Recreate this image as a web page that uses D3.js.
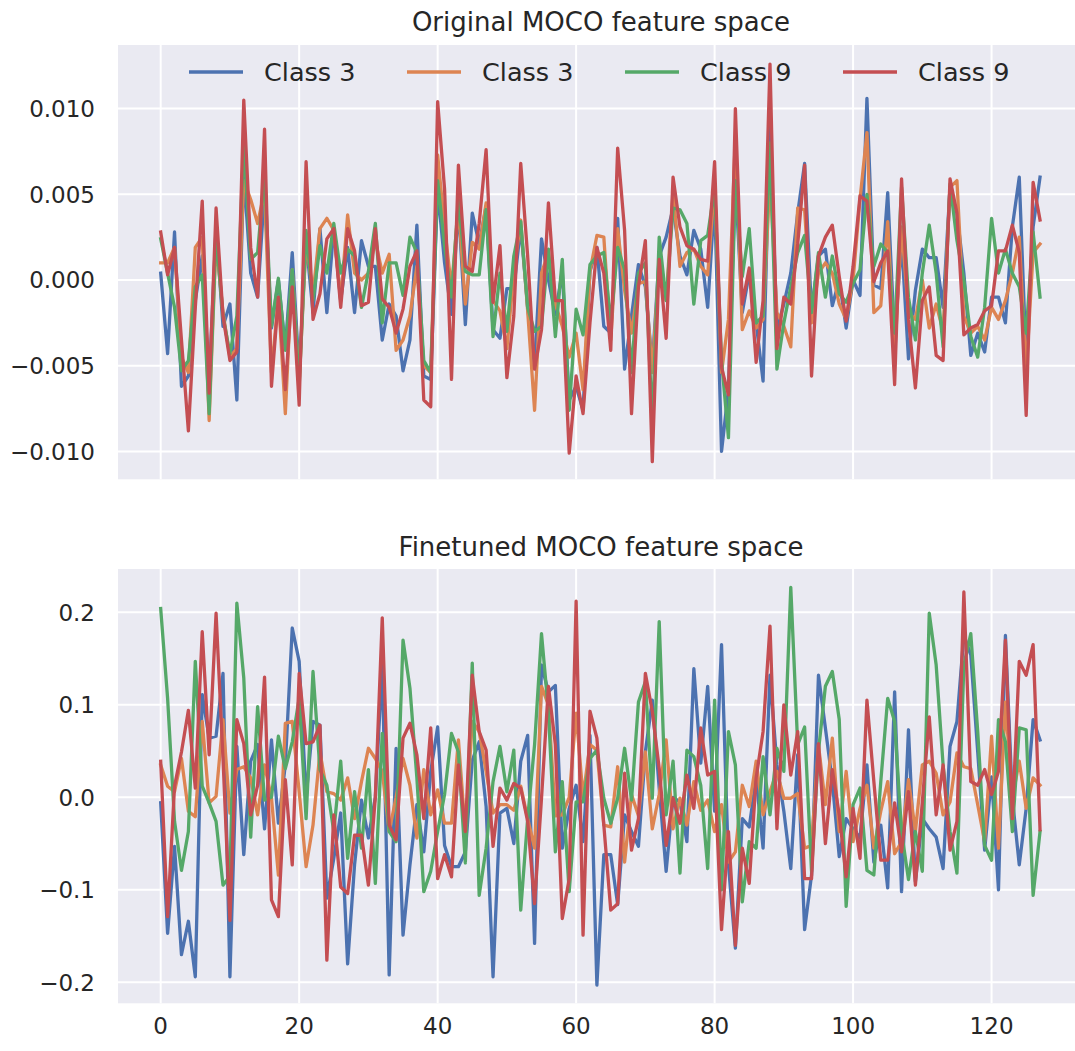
<!DOCTYPE html>
<html>
<head>
<meta charset="utf-8">
<script src="https://cdn.jsdelivr.net/npm/d3@7"></script>
<style>
  html, body { margin: 0; padding: 0; background: #ffffff; }
  svg { display: block; font-family: "DejaVu Sans", sans-serif; }
</style>
</head>
<body>
<svg id="chart" width="1075" height="1051"></svg>
<script>
// ---------- data ----------
const seriesLabels = ["Class 3", "Class 3", "Class 9", "Class 9"];
const seriesColors = ["#4C72B0", "#DD8452", "#55A868", "#C44E52"];
const titles = ["Original MOCO feature space", "Finetuned MOCO feature space"];
const xTicks = [0, 20, 40, 60, 80, 100, 120];
const topYTicks = [-0.010, -0.005, 0.000, 0.005, 0.010];
const bottomYTicks = [-0.2, -0.1, 0.0, 0.1, 0.2];

const topBlue = [0.0004,-0.0043,0.0028,-0.0062,-0.0056,-0.0012,0.0014,-0.0060,0.0031,-0.0027,
-0.0014,-0.0070,0.0062,0.0004,-0.0010,0.0052,-0.0028,0.0000,-0.0040,0.0016,
-0.0054,0.0023,-0.0019,0.0030,-0.0019,0.0030,-0.0012,0.0019,-0.0019,0.0023,
0.0008,0.0008,-0.0035,-0.0014,-0.0021,-0.0053,-0.0035,0.0032,-0.0056,-0.0058,
0.0053,0.0010,-0.0020,0.0043,-0.0026,0.0039,0.0021,0.0043,-0.0029,-0.0034,
-0.0005,-0.0005,0.0031,-0.0016,-0.0050,0.0024,0.0000,-0.0020,0.0005,-0.0070,
-0.0062,-0.0076,0.0005,0.0019,-0.0027,-0.0031,0.0036,-0.0052,-0.0021,0.0009,
-0.0004,-0.0050,0.0014,0.0025,0.0042,0.0014,0.0003,0.0029,0.0018,-0.0016,
0.0047,-0.0100,-0.0064,0.0058,-0.0019,0.0004,-0.0025,-0.0059,0.0090,-0.0029,
-0.0014,0.0004,0.0039,0.0068,-0.0019,0.0014,0.0018,-0.0015,0.0000,-0.0028,
0.0000,-0.0009,0.0106,-0.0003,-0.0005,0.0051,-0.0035,0.0023,-0.0046,-0.0006,
0.0018,0.0013,0.0013,-0.0016,0.0054,0.0039,0.0004,-0.0044,-0.0031,-0.0042,
-0.0010,-0.0010,-0.0025,0.0031,0.0060,-0.0047,0.0031,0.0060];

const topOrange = [0.0010,0.0010,0.0019,-0.0045,-0.0054,0.0019,0.0025,-0.0082,0.0023,-0.0019,
-0.0045,-0.0040,0.0058,0.0047,0.0033,0.0052,-0.0054,-0.0010,-0.0078,0.0006,
-0.0060,0.0023,-0.0008,0.0030,0.0036,0.0029,-0.0012,0.0038,0.0004,0.0000,
0.0004,0.0023,0.0004,0.0015,-0.0041,-0.0035,-0.0021,0.0008,-0.0050,-0.0054,
0.0073,0.0031,-0.0005,0.0043,-0.0014,0.0022,0.0018,0.0045,-0.0012,-0.0018,
-0.0040,0.0004,0.0035,-0.0018,-0.0076,0.0004,0.0016,-0.0014,-0.0027,-0.0045,
-0.0031,-0.0064,0.0005,0.0026,0.0025,-0.0035,0.0030,-0.0006,-0.0031,-0.0002,
-0.0001,-0.0054,0.0012,-0.0012,0.0051,0.0008,0.0016,0.0018,0.0008,0.0003,
0.0056,-0.0054,-0.0023,0.0084,-0.0029,-0.0018,-0.0028,-0.0023,0.0060,-0.0019,
-0.0027,-0.0039,0.0042,0.0041,-0.0025,0.0004,0.0010,0.0004,-0.0014,-0.0023,
0.0000,0.0047,0.0086,-0.0019,-0.0015,0.0034,-0.0045,0.0031,-0.0019,-0.0023,
0.0000,-0.0028,-0.0014,-0.0030,0.0054,0.0058,-0.0021,-0.0031,-0.0027,-0.0035,
-0.0016,-0.0023,-0.0012,0.0004,0.0025,-0.0054,0.0016,0.0021];

const topGreen = [0.0024,0.0004,-0.0016,-0.0053,-0.0047,-0.0004,0.0003,-0.0078,0.0027,-0.0021,
-0.0043,-0.0021,0.0080,0.0012,0.0016,0.0062,-0.0027,0.0001,-0.0041,0.0006,
-0.0062,0.0029,-0.0012,0.0020,0.0004,0.0033,0.0004,0.0018,0.0014,-0.0016,
0.0005,0.0033,-0.0025,0.0010,0.0010,-0.0009,0.0025,0.0016,-0.0047,-0.0054,
0.0058,0.0020,-0.0010,0.0047,0.0005,0.0003,0.0003,0.0041,-0.0033,0.0004,
-0.0030,0.0014,0.0034,-0.0016,-0.0030,-0.0027,0.0018,-0.0033,0.0012,-0.0076,
-0.0017,-0.0032,0.0009,0.0014,0.0016,-0.0025,0.0019,0.0006,-0.0054,0.0004,
0.0010,-0.0084,0.0025,-0.0012,0.0042,0.0041,0.0033,-0.0014,0.0023,0.0026,
0.0054,-0.0047,-0.0092,0.0058,0.0002,0.0030,-0.0025,-0.0021,0.0080,-0.0052,
-0.0025,-0.0004,0.0016,0.0026,-0.0019,0.0016,-0.0010,0.0014,-0.0008,-0.0013,
-0.0002,0.0006,0.0050,0.0008,0.0021,0.0016,-0.0031,0.0054,-0.0010,-0.0035,
0.0004,0.0032,0.0004,-0.0039,0.0056,0.0023,0.0000,-0.0033,-0.0045,-0.0016,
0.0036,0.0004,0.0018,0.0004,-0.0004,-0.0031,0.0028,-0.0010];

const topRed = [0.0028,0.0003,0.0019,-0.0035,-0.0088,-0.0016,0.0046,-0.0066,0.0042,-0.0021,
-0.0047,-0.0042,0.0105,0.0019,-0.0010,0.0088,-0.0062,-0.0010,-0.0064,-0.0004,
-0.0073,0.0069,-0.0023,-0.0008,0.0024,0.0030,-0.0016,0.0030,0.0017,-0.0015,
-0.0013,0.0030,-0.0011,-0.0016,-0.0031,-0.0017,0.0008,0.0017,-0.0070,-0.0074,
0.0104,0.0053,-0.0058,0.0067,0.0008,0.0005,0.0033,0.0076,-0.0013,0.0020,
-0.0057,-0.0021,0.0068,0.0014,-0.0052,-0.0029,0.0045,-0.0012,-0.0012,-0.0101,
-0.0056,-0.0078,-0.0025,0.0019,0.0004,-0.0041,0.0077,0.0029,-0.0078,-0.0004,
0.0023,-0.0106,0.0012,-0.0034,0.0060,0.0031,0.0020,0.0018,0.0012,0.0011,
0.0069,-0.0051,-0.0067,0.0100,-0.0014,0.0007,-0.0048,-0.0012,0.0126,-0.0040,
-0.0010,-0.0014,0.0021,0.0067,-0.0056,0.0014,0.0025,0.0032,0.0002,-0.0024,
0.0008,0.0049,0.0046,-0.0001,0.0010,0.0017,-0.0061,0.0059,-0.0023,-0.0063,
-0.0012,-0.0004,-0.0044,-0.0047,0.0059,0.0039,-0.0032,-0.0028,-0.0026,-0.0018,
-0.0015,0.0017,0.0017,0.0032,0.0016,-0.0079,0.0057,0.0035];

const bottomBlue = [-0.006,-0.147,-0.053,-0.170,-0.134,-0.194,0.111,0.064,0.066,0.134,
-0.194,0.055,-0.062,0.039,0.057,-0.034,0.062,-0.028,0.035,0.183,
0.147,0.000,0.082,0.078,-0.109,-0.066,-0.017,-0.180,-0.073,-0.003,
-0.044,0.000,0.143,-0.192,0.053,-0.149,-0.073,-0.008,-0.059,0.028,
0.076,-0.052,-0.075,-0.075,-0.059,0.040,0.060,-0.010,-0.194,-0.017,
-0.012,-0.050,0.039,0.067,-0.158,0.143,0.114,0.121,-0.055,-0.012,
0.013,-0.048,0.067,-0.203,-0.062,-0.062,-0.116,-0.019,-0.037,-0.053,
0.049,0.105,0.010,-0.080,0.000,-0.005,-0.048,0.139,0.037,0.120,
-0.015,0.165,-0.073,-0.163,-0.023,-0.032,0.021,-0.055,0.132,0.035,
-0.015,-0.077,0.046,-0.143,-0.084,0.132,0.075,0.017,-0.064,-0.023,
-0.034,-0.044,0.035,-0.070,-0.030,-0.098,0.114,-0.102,0.073,-0.091,
-0.023,-0.034,-0.043,-0.077,0.055,0.082,0.175,0.154,0.049,-0.057,
0.022,-0.100,0.175,-0.001,-0.073,-0.012,0.084,0.062];

const bottomOrange = [0.035,0.012,0.006,0.042,-0.015,-0.021,0.082,-0.006,0.001,0.084,
-0.017,0.030,0.033,0.021,-0.019,0.035,-0.001,-0.084,0.080,0.082,
0.006,-0.075,-0.030,0.049,0.006,0.004,-0.003,0.021,-0.023,0.017,
0.053,0.042,0.028,-0.037,0.000,0.042,0.013,-0.044,0.030,-0.019,
0.008,-0.028,-0.028,0.062,-0.037,0.082,0.071,0.028,-0.017,-0.008,
-0.008,-0.014,0.012,-0.023,-0.055,0.120,0.100,-0.020,-0.019,0.000,
0.091,0.000,0.057,0.051,-0.030,-0.032,0.033,-0.070,0.003,-0.020,
0.049,-0.034,0.003,0.062,-0.034,-0.001,-0.030,0.017,-0.014,-0.003,
-0.037,-0.008,-0.070,-0.059,0.013,-0.010,0.039,-0.019,0.006,0.028,
-0.001,-0.001,0.004,-0.055,-0.052,0.057,-0.008,0.064,-0.037,0.028,
-0.048,-0.012,0.013,-0.055,-0.015,0.017,-0.061,-0.048,0.019,-0.037,
0.035,0.039,0.026,-0.019,-0.005,0.048,0.033,0.031,-0.008,-0.048,
0.066,-0.055,0.103,-0.001,0.039,-0.012,0.021,0.013];

const bottomGreen = [0.204,0.107,-0.026,-0.079,-0.037,0.147,0.012,-0.006,-0.026,-0.095,
-0.085,0.210,0.129,-0.043,0.098,-0.003,0.000,0.066,0.031,0.060,
0.107,-0.023,0.136,0.030,0.013,-0.037,0.039,-0.066,0.006,-0.055,
0.030,-0.093,0.069,-0.037,-0.048,0.170,0.118,0.021,-0.102,-0.080,
-0.037,0.003,0.069,0.049,-0.071,0.145,-0.106,-0.055,0.017,0.055,
0.006,0.051,-0.122,-0.023,0.057,0.177,0.093,-0.059,0.017,-0.102,
-0.005,-0.005,0.042,0.051,-0.001,-0.028,-0.001,0.053,-0.003,0.103,
0.125,-0.001,0.190,-0.019,0.039,-0.082,0.051,0.044,0.013,-0.077,
0.105,-0.100,0.071,0.035,-0.113,-0.048,-0.055,0.044,-0.019,0.053,
0.028,0.227,0.057,0.076,-0.080,0.050,0.120,0.136,0.084,-0.118,
-0.008,0.010,-0.079,-0.084,0.017,0.107,0.082,-0.037,-0.089,-0.037,
-0.080,0.199,0.143,0.035,-0.037,-0.082,0.143,0.177,0.071,-0.052,
-0.068,0.084,0.060,-0.037,0.075,0.073,-0.106,-0.037];

const bottomRed = [0.039,-0.129,0.012,0.049,0.094,0.010,0.179,0.046,0.199,0.042,
-0.133,0.084,0.058,-0.019,0.013,0.130,-0.111,-0.129,0.019,-0.073,
0.134,0.058,0.060,0.078,-0.176,-0.019,-0.097,-0.104,-0.041,-0.041,
-0.095,0.000,0.194,-0.030,-0.046,0.064,0.080,0.046,-0.023,0.075,
-0.088,-0.062,-0.086,0.035,-0.037,0.132,0.071,0.051,-0.053,0.010,
-0.003,0.015,0.010,-0.026,-0.115,-0.001,0.120,0.057,-0.131,-0.088,
0.212,-0.149,0.093,0.064,-0.030,-0.122,-0.115,0.026,-0.057,-0.023,
0.134,0.093,0.031,-0.052,-0.001,-0.028,0.024,-0.012,0.075,0.024,
0.028,-0.143,-0.037,-0.160,-0.055,-0.093,0.021,0.071,0.185,-0.034,
0.100,0.024,0.071,-0.088,-0.088,0.058,-0.050,0.030,-0.019,-0.086,
-0.012,-0.066,0.105,0.017,-0.068,-0.068,-0.006,-0.059,0.006,-0.095,
-0.005,0.087,-0.019,0.035,-0.057,-0.026,0.222,0.017,0.013,0.030,
0.003,0.028,0.170,-0.023,0.147,0.132,0.165,-0.035];

// ---------- layout ----------
const svg = d3.select("#chart");
const textColor = "#262626";
const bg = "#EAEAF2";

const panels = [
  { title: titles[0], series: [topBlue, topOrange, topGreen, topRed],
    top: 45, bottom: 479.3, yDomain: [-0.011628, 0.013711], yTicks: topYTicks,
    fmt: d3.format(".3f"), titleY: 31, legend: true },
  { title: titles[1], series: [bottomBlue, bottomOrange, bottomGreen, bottomRed],
    top: 569, bottom: 1003.3, yDomain: [-0.22270, 0.24681], yTicks: bottomYTicks,
    fmt: d3.format(".1f"), titleY: 556, legend: false }
];

const axLeft = 118, axRight = 1084;
const x = d3.scaleLinear().domain([-6.165, 133.35]).range([axLeft, axRight]);

panels.forEach(p => {
  const y = d3.scaleLinear().domain(p.yDomain).range([p.bottom, p.top]);
  const g = svg.append("g");

  g.append("rect")
    .attr("x", axLeft).attr("y", p.top)
    .attr("width", axRight - axLeft).attr("height", p.bottom - p.top)
    .attr("fill", bg);

  // grid
  g.selectAll(".vg").data(xTicks).join("line")
    .attr("x1", d => x(d)).attr("x2", d => x(d))
    .attr("y1", p.top).attr("y2", p.bottom)
    .attr("stroke", "#ffffff").attr("stroke-width", 2);
  g.selectAll(".hg").data(p.yTicks).join("line")
    .attr("x1", axLeft).attr("x2", axRight)
    .attr("y1", d => y(d)).attr("y2", d => y(d))
    .attr("stroke", "#ffffff").attr("stroke-width", 2);

  // y tick labels
  g.selectAll(".yl").data(p.yTicks).join("text")
    .attr("x", 95).attr("y", d => y(d) + 8.3)
    .attr("text-anchor", "end")
    .attr("font-size", 23).attr("fill", textColor)
    .text(d => p.fmt(d));

  // title
  g.append("text")
    .attr("x", (axLeft + axRight) / 2).attr("y", p.titleY)
    .attr("text-anchor", "middle")
    .attr("font-size", 26).attr("fill", textColor)
    .text(p.title);

  // legend
  if (p.legend) {
    const lx = [189, 407, 625, 843];
    const ly = 72;
    seriesLabels.forEach((lab, k) => {
      g.append("line")
        .attr("x1", lx[k]).attr("x2", lx[k] + 54)
        .attr("y1", ly).attr("y2", ly)
        .attr("stroke", seriesColors[k]).attr("stroke-width", 3.3);
      g.append("text")
        .attr("x", lx[k] + 75).attr("y", ly + 9)
        .attr("font-size", 25.5).attr("fill", textColor)
        .text(lab);
    });
  }

  // lines
  const line = d3.line().x((d, i) => x(i)).y(d => y(d));
  p.series.forEach((s, k) => {
    g.append("path")
      .attr("d", line(s))
      .attr("fill", "none")
      .attr("stroke", seriesColors[k])
      .attr("stroke-width", 3.3)
      .attr("stroke-linejoin", "round")
      .attr("stroke-linecap", "square");
  });
});

// x tick labels (bottom panel only)
svg.selectAll(".xl").data(xTicks).join("text")
  .attr("x", d => x(d)).attr("y", 1034)
  .attr("text-anchor", "middle")
  .attr("font-size", 23).attr("fill", textColor)
  .text(d => d);
</script>
</body>
</html>
